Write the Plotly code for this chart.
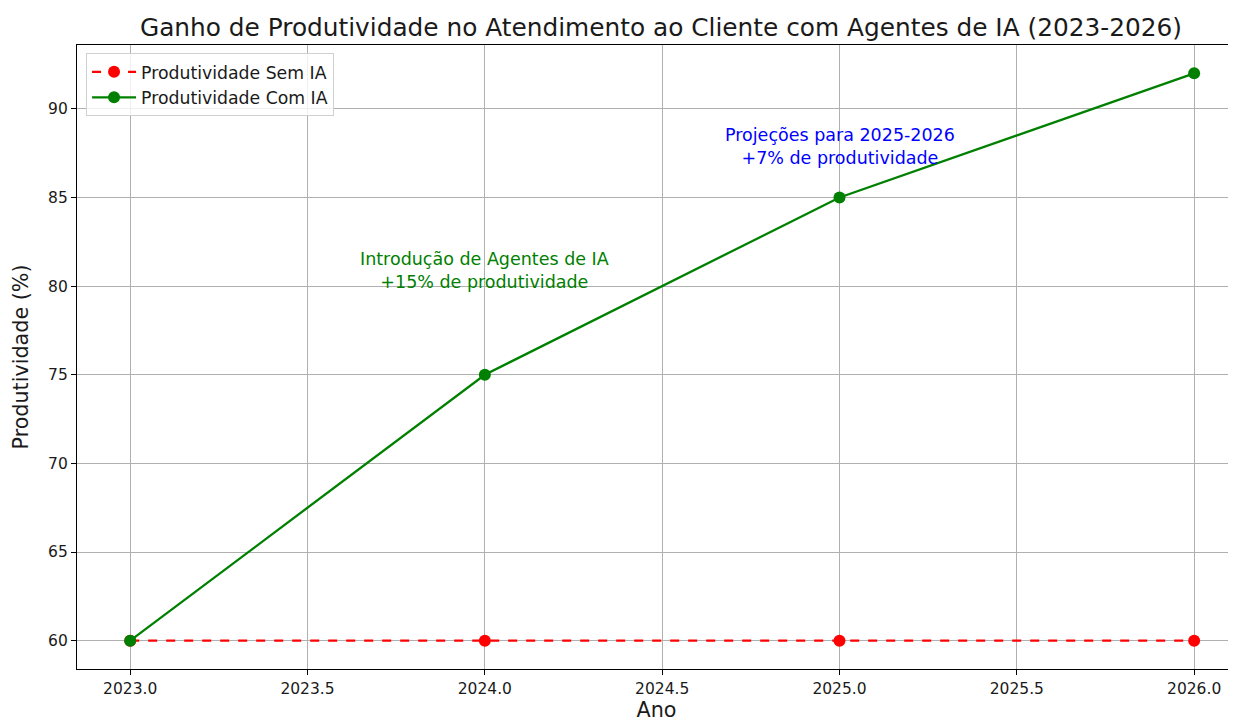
import plotly.graph_objects as go

anos = [2023, 2024, 2025, 2026]
sem_ia = [60, 60, 60, 60]
com_ia = [60, 75, 85, 92]
x_ticks = [2023.0, 2023.5, 2024.0, 2024.5, 2025.0, 2025.5, 2026.0]
x_tick_labels = [f"{v:.1f}" for v in x_ticks]
y_ticks = [60, 65, 70, 75, 80, 85, 90]

FONT = "DejaVu Sans"
TXT = "#1a1a1a"
fig = go.Figure()
fig.add_trace(go.Scatter(
    x=anos, y=sem_ia, mode="lines+markers", name="Produtividade Sem IA",
    line=dict(color="red", width=2.3, dash="dash"),
    marker=dict(color="red", size=12),
))
fig.add_trace(go.Scatter(
    x=anos, y=com_ia, mode="lines+markers", name="Produtividade Com IA",
    line=dict(color="green", width=2.3),
    marker=dict(color="green", size=12),
))

fig.add_annotation(x=2024, y=80.9, text="Introdução de Agentes de IA<br>+15% de produtividade",
                   showarrow=False, font=dict(family=FONT, size=17.5, color="green"))
fig.add_annotation(x=2025, y=87.9, text="Projeções para 2025-2026<br>+7% de produtividade",
                   showarrow=False, font=dict(family=FONT, size=17.5, color="blue"))

# the page body has an 8px margin, so the figure is sized/placed to compensate
fig.update_layout(
    width=1228, height=714,
    margin=dict(l=69, r=0, t=37, b=53),
    paper_bgcolor="white", plot_bgcolor="white",
    font=dict(family=FONT, size=15.5, color=TXT),
    title=dict(text="Ganho de Produtividade no Atendimento ao Cliente com Agentes de IA (2023-2026)",
               x=653 / 1228, xanchor="center", y=1 - 19 / 714, yanchor="middle",
               font=dict(family=FONT, size=24.8, color=TXT)),
    showlegend=True,
    legend=dict(x=0.0078, y=0.987, xanchor="left", yanchor="top",
                bgcolor="rgba(255,255,255,0.8)", bordercolor="#d0d0d0", borderwidth=1,
                font=dict(family=FONT, size=17.3, color=TXT),
                itemwidth=44, tracegroupgap=0),
    xaxis=dict(range=[2022.85, 2026.118], tickvals=x_ticks, ticktext=x_tick_labels,
               tickfont=dict(family=FONT, size=15.5, color=TXT),
               showgrid=True, gridcolor="#b0b0b0", gridwidth=1,
               showline=True, linecolor="black", linewidth=1.2, mirror=True,
               ticks="outside", ticklen=5, tickcolor="black", zeroline=False,
               title=dict(text="Ano", font=dict(family=FONT, size=20.7, color=TXT), standoff=9)),
    yaxis=dict(range=[58.4, 93.6], tickvals=y_ticks,
               tickfont=dict(family=FONT, size=15.5, color=TXT),
               showgrid=True, gridcolor="#b0b0b0", gridwidth=1,
               showline=True, linecolor="black", linewidth=1.2, mirror=False,
               ticks="outside", ticklen=5, tickcolor="black", zeroline=False,
               title=dict(text="Produtividade (%)", font=dict(family=FONT, size=20.7, color=TXT), standoff=13)),
)

fig.write_html("out.html")
